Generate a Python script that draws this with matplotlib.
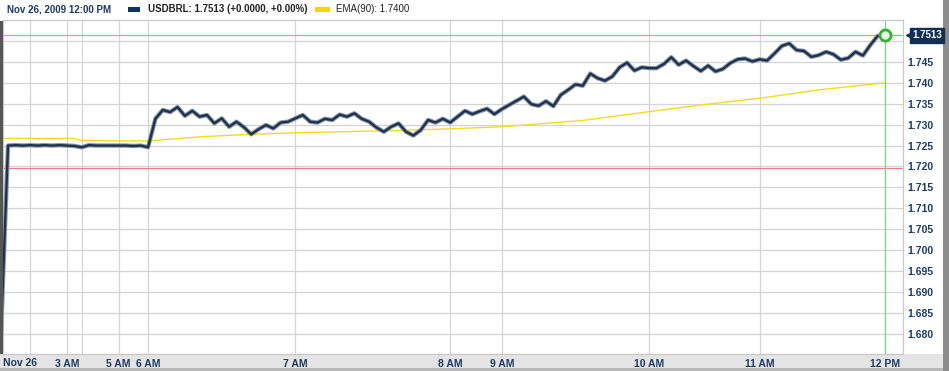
import matplotlib.pyplot as plt
import matplotlib.transforms as mtransforms
from matplotlib.patches import Rectangle

# USD/BRL intraday bars, Nov 26 2009 (one value per bar)
usdbrl = [
    1.6777,
    1.7250, 1.7251, 1.7250, 1.7251, 1.7250, 1.7251, 1.7250, 1.7251, 1.7250, 1.7249,
    1.7246, 1.7251, 1.7250, 1.7250, 1.7250, 1.7250, 1.7250, 1.7249, 1.7250, 1.7246,
    1.7314, 1.7335, 1.7330, 1.7342, 1.7321, 1.7333, 1.7319, 1.7323, 1.7303, 1.7315,
    1.7295, 1.7307, 1.7294, 1.7277, 1.7289, 1.7299, 1.7291, 1.7305, 1.7307, 1.7315,
    1.7323, 1.7307, 1.7305, 1.7314, 1.7311, 1.7324, 1.7319, 1.7327, 1.7314, 1.7307,
    1.7293, 1.7283, 1.7295, 1.7303, 1.7283, 1.7274, 1.7287, 1.7311, 1.7305, 1.7314,
    1.7305, 1.7319, 1.7333, 1.7325, 1.7332, 1.7338, 1.7325, 1.7337, 1.7347, 1.7357,
    1.7367, 1.7349, 1.7345, 1.7356, 1.7344, 1.7371, 1.7383, 1.7396, 1.7393, 1.7422,
    1.7411, 1.7405, 1.7415, 1.7437, 1.7448, 1.7429, 1.7437, 1.7435, 1.7435, 1.7445,
    1.7461, 1.7443, 1.7453, 1.7440, 1.7428, 1.7441, 1.7427, 1.7433, 1.7447, 1.7456,
    1.7458, 1.7451, 1.7456, 1.7453, 1.7470, 1.7488, 1.7494, 1.7478, 1.7476, 1.7462,
    1.7466, 1.7474, 1.7468, 1.7455, 1.7459, 1.7474, 1.7465, 1.7490, 1.7512, 1.7513,
]

# EMA(90) read at a few bars
ema_idx = [0, 10, 11, 20, 27, 34, 41, 54, 61, 68, 79, 88, 95, 103, 111, 120]
ema_val = [1.7267, 1.7267, 1.7262, 1.7261, 1.7271, 1.7277, 1.7281, 1.7286, 1.7290,
           1.7295, 1.7310, 1.7331, 1.7347, 1.7363, 1.7383, 1.7400]

prev_close = 1.7196
last = usdbrl[-1]

grid_idx = [4, 9, 11, 16, 20, 40, 61, 68, 88, 103]
tick_idx = [9, 16, 20, 40, 61, 68, 88, 103, 120]
tick_lbl = ['3 AM', '5 AM', '6 AM', '7 AM', '8 AM', '9 AM', '10 AM', '11 AM', '12 PM']
y_ticks = [1.680, 1.685, 1.690, 1.695, 1.700, 1.705, 1.710, 1.715, 1.720,
           1.725, 1.730, 1.735, 1.740, 1.745, 1.750]

navy = '#1c3a62'
line_navy = '#1e3250'
plt.rcParams['font.family'] = ['Liberation Sans', 'DejaVu Sans']

W, H = 949, 371
fig = plt.figure(figsize=(W / 100, H / 100), dpi=100)
fig.patch.set_facecolor('white')

# frame decorations: bottom band, right and left edges (behind the axes)
fig.patches.append(Rectangle((0, 0), 1, 17 / H, transform=fig.transFigure,
                             fc='#e4e4e4', ec='none', zorder=-2))
fig.patches.append(Rectangle((0, 0), 1, 3 / H, transform=fig.transFigure,
                             fc='#b8b8b8', ec='none', zorder=-1))
fig.patches.append(Rectangle((943 / W, 0), 6 / W, 1, transform=fig.transFigure,
                             fc='#8c8c8c', ec='none', zorder=-1))
fig.patches.append(Rectangle((0, 17 / H), 2.5 / W, 333 / H, transform=fig.transFigure,
                             fc='#555555', ec='none', zorder=5))

ax = fig.add_axes([3 / W, 17 / H, 900 / W, 334 / H])
x = list(range(len(usdbrl)))

for g in grid_idx:
    ax.axvline(g, color='#d4d4d4', lw=0.9, zorder=0)
for yv in y_ticks:
    ax.axhline(yv, color='#d4d4d4', lw=0.9, zorder=0)

ax.axhline(prev_close, color='#e88080', lw=0.9, zorder=1)
ax.plot(ema_idx, ema_val, color='#f2dc1c', lw=1.0, zorder=2)
ax.plot(x, usdbrl, color='#8d99aa', lw=3.2, zorder=3, solid_joinstyle='round')
ax.plot(x, usdbrl, color=line_navy, lw=1.7, zorder=4, solid_joinstyle='round')

ax.axhline(last, color='#7fd07f', lw=0.9, zorder=2)
ax.axvline(x[-1], color='#7fd07f', lw=0.9, zorder=2)
ax.plot([x[-1]], [last], marker='o', ms=8, mfc='#e6f7df', mec='#2fb52f', mew=2,
        zorder=6, clip_on=False)

ax.set_xlim(0.32, 122.44)
ax.set_ylim(1.6752, 1.7550)

ax.yaxis.tick_right()
ax.set_yticks(y_ticks)
# top label sits behind the last-value tag
ax.set_yticklabels([f'{v:.3f}' for v in y_ticks[:-1]] + [''])
ax.set_xticks(tick_idx)
ax.set_xticklabels(tick_lbl)
ax.tick_params(axis='both', length=0, labelsize=7.5, labelcolor=navy)
ax.tick_params(axis='x', pad=3.5)
ax.tick_params(axis='y', pad=3)
for lbl in ax.get_xticklabels() + ax.get_yticklabels():
    lbl.set_fontweight('bold')
ax.text(0.0, -0.012, 'Nov 26', transform=ax.transAxes, ha='left', va='top',
        fontsize=7.5, fontweight='bold', color=navy)

for side in ax.spines.values():
    side.set_color('#c8c8c8')
    side.set_linewidth(0.9)

# last value tag on the right
blend = mtransforms.blended_transform_factory(ax.transAxes, ax.transData)
ax.annotate(f'{last:.4f}', xy=(1, last), xycoords=blend, xytext=(6.5, 0),
            textcoords='offset points', ha='left', va='center', color='white',
            fontsize=7, fontweight='bold', zorder=10, annotation_clip=False,
            bbox=dict(boxstyle='square,pad=0.25', fc='#0f2f57', ec='#0f2f57'))
tri = mtransforms.offset_copy(blend, fig=fig, x=4.2, y=0, units='points')
ax.plot([1], [last], marker='<', ms=5, color='#0f2f57', transform=tri,
        clip_on=False, zorder=10)

# header
fig.text(7 / W, 1 - 9 / H, 'Nov 26, 2009 12:00 PM', ha='left', va='center',
         fontsize=7, fontweight='bold', color=navy)
fig.patches.append(Rectangle((128 / W, 1 - 12 / H), 12 / W, 5 / H,
                             transform=fig.transFigure, fc='#0f3460', ec='none'))
fig.text(148 / W, 1 - 9 / H, 'USDBRL: 1.7513 (+0.0000, +0.00%)', ha='left',
         va='center', fontsize=7, fontweight='bold', color='#222222')
fig.patches.append(Rectangle((315 / W, 1 - 12 / H), 15 / W, 5 / H,
                             transform=fig.transFigure, fc='#f5d800', ec='none'))
fig.text(336 / W, 1 - 9 / H, 'EMA(90): 1.7400', ha='left', va='center',
         fontsize=7, color='#222222')

fig.savefig('out.png', dpi=100)
